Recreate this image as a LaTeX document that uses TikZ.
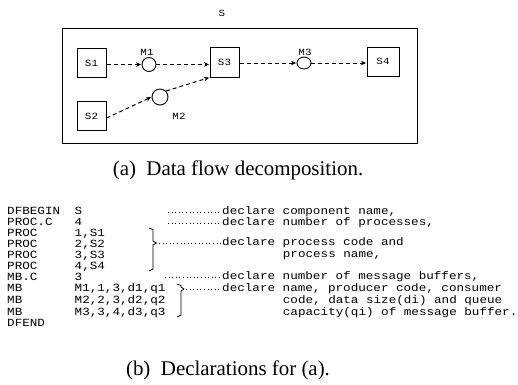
\documentclass[tikz,border=0pt]{standalone}
\usepackage{fontspec}
\setmainfont{Liberation Serif}
\newfontfamily\codefont[FakeStretch=1.15]{Liberation Mono}
\usetikzlibrary{arrows.meta,shapes.geometric}
\begin{document}
\begin{tikzpicture}[x=1bp,y=-1bp,
  code/.style={font=\codefont\fontsize{11}{11}\selectfont, inner sep=0pt, anchor=west, text height=7bp, text depth=2bp},
  proc/.style={draw, line width=1bp, minimum width=29bp, minimum height=29bp, inner sep=0pt, font=\codefont\fontsize{9.5}{9.5}\selectfont},
  buf/.style={draw, circle, line width=0.9bp, minimum size=14bp, inner sep=0pt},
  flow/.style={line width=1bp, dash pattern=on 4bp off 3bp, -{Stealth[length=5bp,width=4.5bp]}, shorten >=0.5bp},
  leader/.style={line width=0.8bp, dash pattern=on 1bp off 2.6bp},
  bracepath/.style={line width=0.8bp},
  lbl/.style={font=\codefont\fontsize{9.5}{9.5}\selectfont, inner sep=0pt},
  captxt/.style={font=\fontsize{21}{21}\selectfont, inner sep=0pt, anchor=base}]
\useasboundingbox (0,0) rectangle (518,384);

% ---------- (a) data flow ----------
\node[lbl] (title) at (222,13) {S};
\node[draw, line width=1bp, minimum width=354bp, minimum height=115bp, inner sep=0pt] (frame) at (240,85.5) {};

\node[proc] (S1) at (91.5,63) {S1};
\node[proc] (S2) at (91.5,116) {S2};
\node[proc, minimum height=30bp] (S3) at (224.5,62) {S3};
\node[proc, minimum width=32bp] (S4) at (383,61.5) {S4};

\node[buf] (M1) at (149,64.5) {};
\node[buf, minimum size=16bp] (M2) at (160,97) {};
\node[draw, ellipse, line width=0.9bp, minimum width=14bp, minimum height=12bp, inner sep=0pt] (M3) at (304,63) {};

\node[lbl] (M1l) at (147,52) {M1};
\node[lbl] (M2l) at (179,116) {M2};
\node[lbl] (M3l) at (305,52) {M3};

\draw[flow] (S1.east |- M1) -- (M1.west);
\draw[flow] (M1.east) -- (S3.west |- M1);
\draw[flow] (S3.east |- M3) -- (M3.west);
\draw[flow] (M3.east) -- (S4.west |- M3);
\coordinate (s2o) at ([yshift=-2bp]S2.east);
\draw[flow] (s2o) -- (M2.west);
\draw[flow] (M2.north east) -- (S3.south west);

\node[captxt] (capa) at (238,175.5) {(a)\ \ Data flow decomposition.};

% ---------- (b) declarations ----------
\node[code] (k1) at (7,212) {DFBEGIN};
\node[code] (k2) at (7,223) {PROC.C};
\node[code] (k3) at (7,234) {PROC};
\node[code] (k4) at (7,245) {PROC};
\node[code] (k5) at (7,256) {PROC};
\node[code] (k6) at (7,267) {PROC};
\node[code] (k7) at (7,278) {MB.C};
\node[code] (k8) at (7,289) {MB};
\node[code] (k9) at (7,301) {MB};
\node[code] (k10) at (7,313) {MB};
\node[code] (k11) at (7,324) {DFEND};

\node[code] (a1) at (74.5,212) {S};
\node[code] (a2) at (74.5,223) {4};
\node[code] (a3) at (74.5,234) {1,S1};
\node[code] (a4) at (74.5,245) {2,S2};
\node[code] (a5) at (74.5,256) {3,S3};
\node[code] (a6) at (74.5,267) {4,S4};
\node[code] (a7) at (74.5,278) {3};
\node[code] (a8) at (74.5,289) {M1,1,3,d1,q1};
\node[code] (a9) at (74.5,301) {M2,2,3,d2,q2};
\node[code] (a10) at (74.5,313) {M3,3,4,d3,q3};

\node[code] (r1) at (222,212) {declare component name,};
\node[code] (r2) at (222,223) {declare number of processes,};
\node[code] (r3) at (222,243) {declare process code and};
\node[code] (r3b) at (282.7,255) {process name,};
\node[code] (r4) at (222,277) {declare number of message buffers,};
\node[code] (r5) at (222,289) {declare name, producer code, consumer};
\node[code] (r5b) at (282.7,301) {code, data size(di) and queue};
\node[code] (r5c) at (282.7,313) {capacity(qi) of message buffer.};

% braces
\draw[bracepath] (149,228) -- (153,229.5) -- (153,241) -- (156.5,243) -- (153,245) -- (153,269) -- (149,271);
\coordinate (b1tip) at (159,243);
\draw[bracepath] (177,284) -- (181,285.5) -- (181,287) -- (184,289) -- (181,291) -- (181,315) -- (177,317);
\coordinate (b2tip) at (186,289);

% leaders
\coordinate (l1) at (168,212);
\coordinate (l2) at (168,223);
\coordinate (l4) at (165,277);
\draw[leader] (l1) -- (r1.west);
\draw[leader] (l2) -- (r2.west);
\draw[leader] (b1tip) -- (r3.west);
\draw[leader] (l4) -- (r4.west);
\draw[leader] (b2tip) -- (r5.west);

\node[captxt] (capb) at (228,375.5) {(b)\ \ Declarations for (a).};
\end{tikzpicture}
\end{document}
